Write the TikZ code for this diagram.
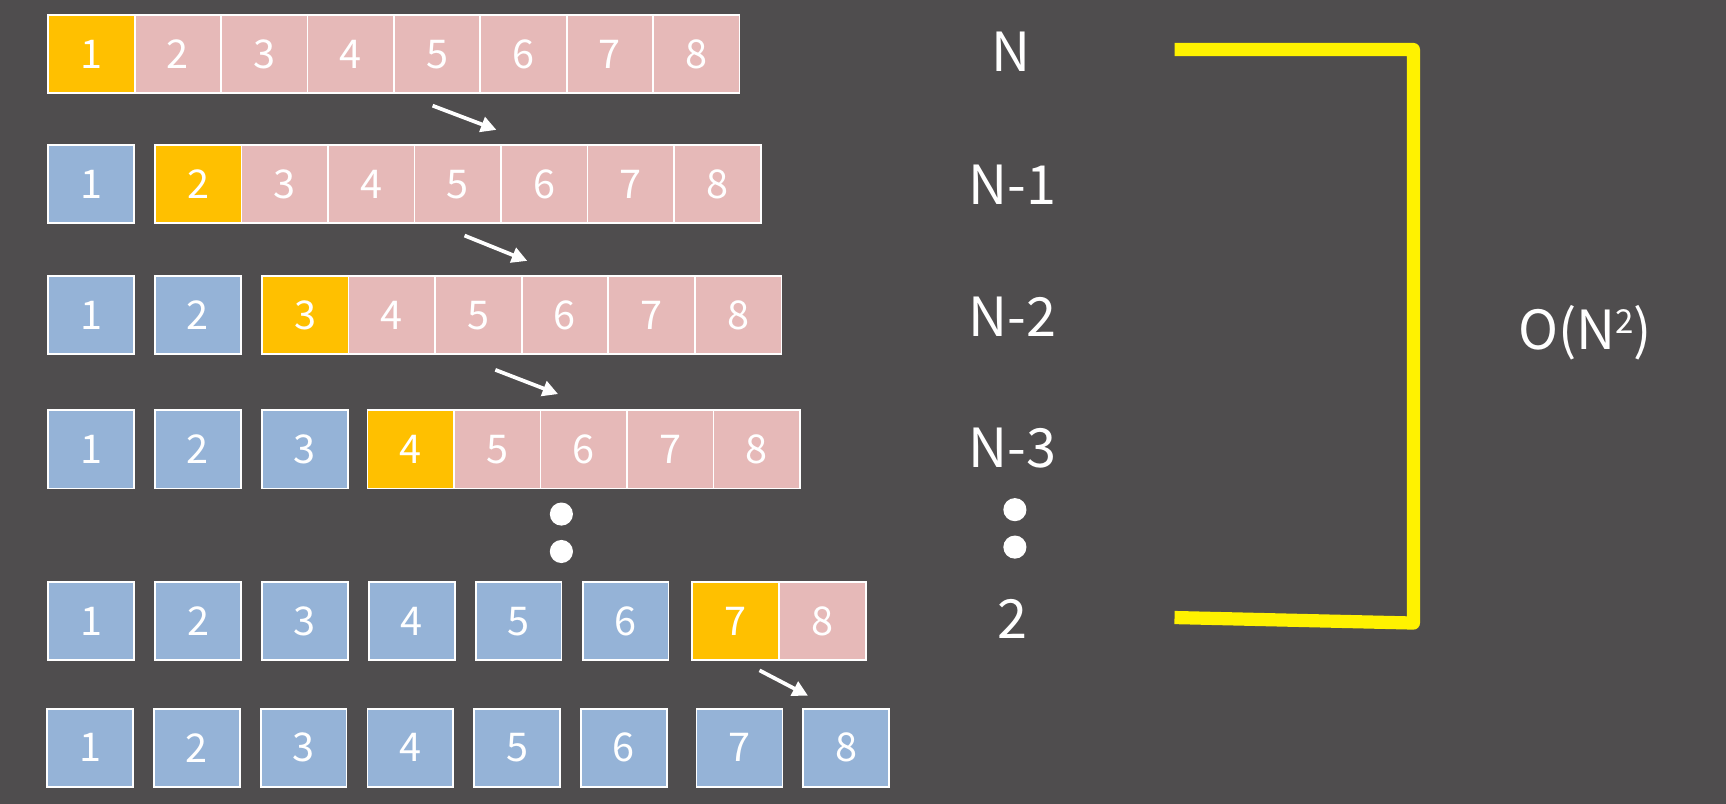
\documentclass[tikz,border=0pt]{standalone}
\usepackage{fontspec}
\setmainfont{Noto Sans CJK SC}
\usetikzlibrary{arrows.meta}
\definecolor{bg}{HTML}{4F4D4E}
\definecolor{pinkc}{HTML}{E6B9B8}
\definecolor{orangec}{HTML}{FFC000}
\definecolor{bluec}{HTML}{95B3D7}
\definecolor{yellowc}{HTML}{FFF200}
\tikzset{
  cell/.style={draw=white, line width=1.6pt, anchor=north west, inner sep=0pt,
    minimum height=71pt, minimum width=78pt, text=white,
    font=\fontsize{36}{40}\selectfont},
  pinkcell/.style={cell, fill=pinkc},
  orangecell/.style={cell, fill=orangec},
  bluecell/.style={cell, fill=bluec},
  arr/.style={white, line width=3.4pt, -{Triangle[length=14pt,width=14pt]}},
  lbl/.style={text=white, font=\fontsize{49}{54}\selectfont},
  dot/.style={circle, fill=white, inner sep=0pt, minimum size=21pt},
  bracket/.style={yellowc, line width=12pt, line join=round}
}
\begin{document}
\begin{tikzpicture}[x=1pt,y=-1pt]
\useasboundingbox (0,0) rectangle (1568,730.4);
\fill[bg] (0,0) rectangle (1568,730.4);
% row 1
\node[orangecell, minimum width=78.5pt] (r1c1) at (43,13) {1};
\foreach \i in {2,...,8} \node[pinkcell, minimum width=78.5pt] (r1c\i) at ({43+(\i-1)*78.5},13) {\i};
% row 2
\node[bluecell] (r2c1) at (43,131) {1};
\node[orangecell, minimum width=78.6pt] (r2c2) at (140,131) {2};
\foreach \i in {3,...,8} \node[pinkcell, minimum width=78.6pt] (r2c\i) at ({140+(\i-2)*78.6},131) {\i};
% row 3
\foreach \i in {1,2} \node[bluecell] (r3c\i) at ({43+(\i-1)*97},250) {\i};
\node[orangecell, minimum width=78.7pt] (r3c3) at (237,250) {3};
\foreach \i in {4,...,8} \node[pinkcell, minimum width=78.7pt] (r3c\i) at ({237+(\i-3)*78.7},250) {\i};
% row 4
\foreach \i in {1,2,3} \node[bluecell] (r4c\i) at ({43+(\i-1)*97},372) {\i};
\node[orangecell, minimum width=78.6pt] (r4c4) at (333,372) {4};
\foreach \i in {5,...,8} \node[pinkcell, minimum width=78.6pt] (r4c\i) at ({333+(\i-4)*78.6},372) {\i};
% dots
\node[dot] (d1) at (510,467) {};
\node[dot] (d2) at (510,501) {};
% row 5
\foreach \i in {1,...,6} \node[bluecell] (r5c\i) at ({43+(\i-1)*97.1},528) {\i};
\node[orangecell, minimum width=79pt] (r5c7) at (628,528) {7};
\node[pinkcell, minimum width=79pt] (r5c8) at (707,528) {8};
% row 6
\foreach \i in {1,...,6} \node[bluecell] (r6c\i) at ({42+(\i-1)*97},643) {\i};
\node[bluecell] (r6c7) at (632,643) {7};
\node[bluecell] (r6c8) at (729,643) {8};
% arrows
\coordinate (a1s) at (393,96);  \coordinate (a1e) at (451,118);
\coordinate (a2s) at (422,214); \coordinate (a2e) at (479,237);
\coordinate (a3s) at (450,336); \coordinate (a3e) at (507,358);
\coordinate (a4s) at (690,609); \coordinate (a4e) at (734,632);
\draw[arr] (a1s) -- (a1e);
\draw[arr] (a2s) -- (a2e);
\draw[arr] (a3s) -- (a3e);
\draw[arr] (a4s) -- (a4e);
% labels
\node[lbl] (lN) at (918,47) {N};
\node[lbl] (lN1) at (920,168) {N-1};
\node[lbl] (lN2) at (920,288) {N-2};
\node[lbl] (lN3) at (920,407) {N-3};
\node[dot] (rd1) at (922,463) {};
\node[dot] (rd2) at (922,497) {};
\node[lbl] (l2) at (920,562) {2};
% bracket
\coordinate (bt) at (1067,45);
\coordinate (bb) at (1067,561);
\draw[bracket] (bt) -- (1284,45) -- (1284,566) -- (bb);
\node[lbl] (on2) at (1440,302) {O(N\raisebox{14pt}{\fontsize{30}{30}\selectfont 2})};
\end{tikzpicture}
\end{document}
